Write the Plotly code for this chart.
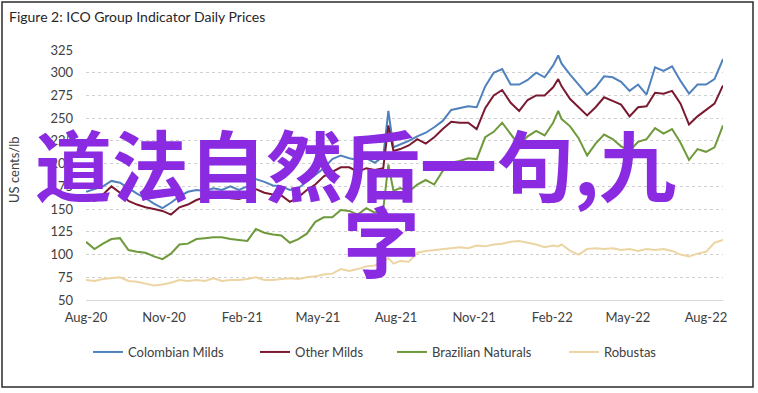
import plotly.graph_objects as go

DATES = ["2020-08-01","2020-08-11","2020-08-21","2020-08-31","2020-09-10","2020-09-20","2020-09-30","2020-10-10","2020-10-20","2020-10-30",
"2020-11-09","2020-11-19","2020-11-29","2020-12-09","2020-12-19","2020-12-29","2021-01-08","2021-01-18","2021-01-28","2021-02-07",
"2021-02-17","2021-02-27","2021-03-09","2021-03-19","2021-03-29","2021-04-08","2021-04-18","2021-04-28","2021-05-08","2021-05-18",
"2021-05-28","2021-06-07","2021-06-17","2021-06-27","2021-07-07","2021-07-17","2021-07-23","2021-07-29","2021-08-06","2021-08-16",
"2021-08-26","2021-09-05","2021-09-15","2021-09-25","2021-10-05","2021-10-15","2021-10-25","2021-11-04","2021-11-14","2021-11-24",
"2021-12-04","2021-12-14","2021-12-24","2022-01-03","2022-01-13","2022-01-23","2022-02-02","2022-02-08","2022-02-12","2022-02-22",
"2022-03-04","2022-03-14","2022-03-24","2022-04-03","2022-04-13","2022-04-23","2022-05-03","2022-05-13","2022-05-23","2022-06-02",
"2022-06-12","2022-06-22","2022-07-02","2022-07-12","2022-07-22","2022-08-01","2022-08-11","2022-08-21"]

COLOMBIAN_MILDS = [169,172,175,181,179,173,167,162,156,151,
157,164,169,171,170,173,171,175,171,175,
183,180,176,175,171,173,180,188,195,205,
209,206,204,206,201,208,258,218,221,225,
230,234,240,247,259,261,263,262,285,300,
304,287,287,292,300,295,308,319,310,298,
287,276,284,296,295,290,280,287,276,306,
302,307,291,277,287,287,293,315]

OTHER_MILDS = [162,159,166,175,168,159,155,152,150,148,
144,152,155,160,163,165,164,162,161,164,
172,168,166,165,158,163,171,177,186,191,
196,196,191,195,193,195,242,214,216,220,
227,222,229,238,246,245,245,238,261,275,
281,267,258,270,275,275,284,293,285,271,
262,253,262,273,269,265,252,262,263,278,
277,280,266,243,252,259,266,286]

BRAZILIAN_NATURALS = [114,106,112,117,118,105,103,102,98,95,
101,111,112,117,118,119,119,117,116,115,
128,124,122,121,113,117,123,136,141,141,
149,148,144,151,146,150,199,170,173,169,
177,182,177,192,201,203,206,205,229,235,
245,232,220,230,236,231,245,258,249,241,
228,209,222,232,227,219,214,224,227,239,
233,238,223,204,216,213,218,242]

ROBUSTAS = [72,71,73,74,75,71,70,68,66,67,
69,72,71,72,71,74,71,72,72,73,
75,72,72,73,74,73,75,76,78,79,
84,82,84,87,88,92,96,90,93,92,
102,104,105,106,107,108,107,110,109,111,
112,114,115,113,111,108,110,109,111,104,
100,106,107,106,107,105,106,104,106,105,
106,104,100,98,101,103,113,116]

SERIES_NAMES = ["Colombian Milds", "Other Milds", "Brazilian Naturals", "Robustas"]
SERIES_COLORS = ["#4F81BD", "#7A1A31", "#6E9A3C", "#EDD5A3"]

X_TICKS = ["2020-08-01","2020-11-01","2021-02-01","2021-05-01","2021-08-01",
           "2021-11-01","2022-02-01","2022-05-01","2022-08-01"]
X_TICK_TEXT = ["Aug-20","Nov-20","Feb-21","May-21","Aug-21","Nov-21","Feb-22","May-22","Aug-22"]
Y_TICKS = [50,75,100,125,150,175,200,225,250,275,300,325]

TITLE = "Figure 2: ICO Group Indicator Daily Prices"
Y_TITLE = "US cents/lb"
OVERLAY_1 = "道法自然后一句,九"
OVERLAY_2 = "字"

FONT = "Lato, 'Open Sans', sans-serif"

# pixel geometry of the plot area
W, H = 758, 393
L, R, T, B = 86, 35, 50, 93
PW, PH = W - L - R, H - T - B

def px(x):
    return (x - L) / PW

def py(y):
    return (H - B - y) / PH

fig = go.Figure()
values = [COLOMBIAN_MILDS, OTHER_MILDS, BRAZILIAN_NATURALS, ROBUSTAS]
legends = ["legend", "legend2", "legend3", "legend4"]
for name, col, vals, lg in zip(SERIES_NAMES, SERIES_COLORS, values, legends):
    fig.add_trace(go.Scatter(x=DATES, y=vals, mode="lines", name=name,
                             line=dict(color=col, width=2), legend=lg))

leg_x = [88, 255, 392, 564]
leg_common = dict(orientation="h", yanchor="middle", y=py(352), xanchor="left",
                  font=dict(family=FONT, size=13, color="#404040"),
                  bgcolor="rgba(0,0,0,0)", borderwidth=0)
fig.update_layout(
    legend=dict(x=px(leg_x[0]), **leg_common),
    legend2=dict(x=px(leg_x[1]), **leg_common),
    legend3=dict(x=px(leg_x[2]), **leg_common),
    legend4=dict(x=px(leg_x[3]), **leg_common),
)

fig.update_layout(
    width=W, height=H,
    margin=dict(l=L, r=R, t=T, b=B, pad=0, autoexpand=False),
    paper_bgcolor="white", plot_bgcolor="white",
    showlegend=True,
    font=dict(family=FONT, size=13, color="#404040"),
)

fig.update_xaxes(type="date", range=["2020-08-01", "2022-08-21"],
                 tickvals=X_TICKS, ticktext=X_TICK_TEXT,
                 showgrid=False, zeroline=False,
                 showline=True, linecolor="#D9D9D9", linewidth=1,
                 ticks="", ticklabelstandoff=5, automargin=False,
                 tickfont=dict(family=FONT, size=13, color="#404040"))
fig.update_yaxes(range=[50, 325], tickvals=Y_TICKS,
                 showgrid=True, gridcolor="#D0D0D0", griddash="dot", gridwidth=1,
                 zeroline=False, showline=False, ticks="",
                 ticklabelstandoff=12, automargin=False,
                 tickfont=dict(family=FONT, size=13, color="#404040"))

annotations = [
    dict(text=TITLE, xref="paper", yref="paper", x=px(7), y=py(16),
         xanchor="left", yanchor="middle", showarrow=False,
         font=dict(family=FONT, size=14, color="#262626")),
    dict(text=Y_TITLE, xref="paper", yref="paper", x=px(14), y=py(170),
         xanchor="center", yanchor="middle", showarrow=False, textangle=-90,
         font=dict(family=FONT, size=13, color="#404040")),
    dict(text=OVERLAY_1, xref="paper", yref="paper", x=px(355), y=py(162),
         xanchor="center", yanchor="middle", showarrow=False,
         font=dict(family="Noto Sans CJK SC", size=77, color="#8A2BE2", weight="bold")),
    dict(text=OVERLAY_2, xref="paper", yref="paper", x=px(381), y=py(238),
         xanchor="center", yanchor="middle", showarrow=False,
         font=dict(family="Noto Sans CJK SC", size=77, color="#8A2BE2", weight="bold")),
]
fig.update_layout(annotations=annotations)

fig.add_shape(type="rect", xref="paper", yref="paper",
              x0=px(2), x1=px(753), y0=py(387), y1=py(2),
              line=dict(color="#2B2B2B", width=1.5), fillcolor="rgba(0,0,0,0)", layer="above")

fig.write_html("out.html", config={"displayModeBar": False},
               post_script="document.body.style.margin='0';document.body.style.overflow='hidden';")
